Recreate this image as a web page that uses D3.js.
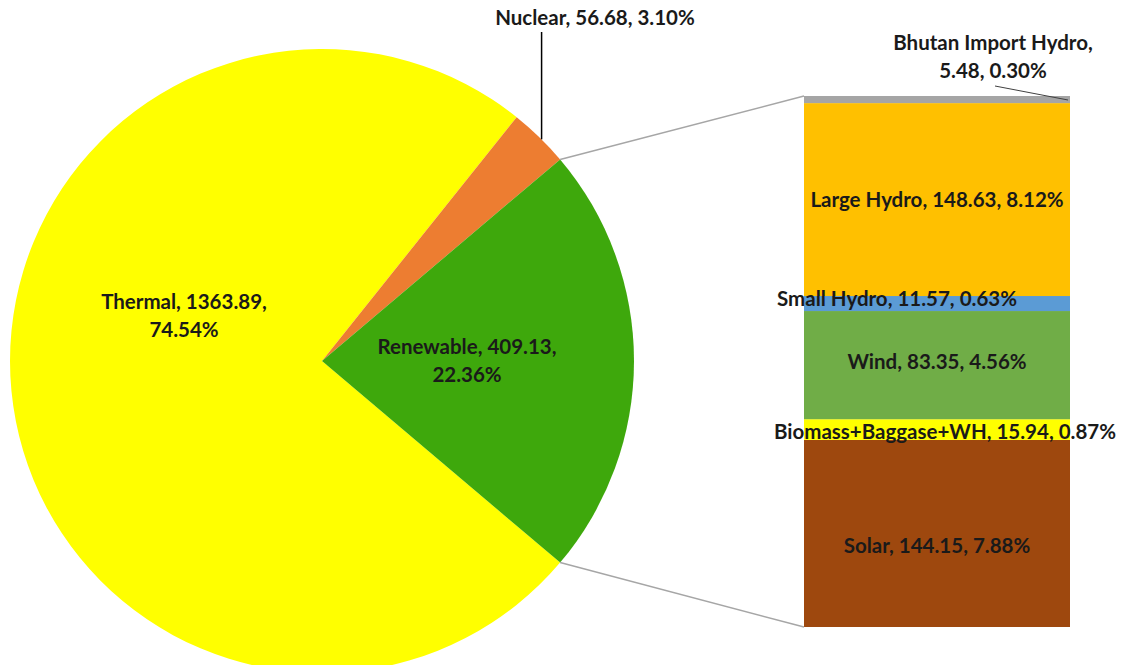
<!DOCTYPE html>
<html>
<head>
<meta charset="utf-8">
<script src="https://cdn.jsdelivr.net/npm/d3@7"></script>
<style>
  body { margin: 0; background: #fff; }
  svg text { font-family: Lato, "Noto Sans", sans-serif; font-weight: bold; fill: #1a1a1a; }
</style>
</head>
<body>
<svg id="chart"></svg>
<script>
// main pie
const pieNames = ["Thermal", "Nuclear", "Renewable"]
const pieValues = [1363.89, 56.68, 409.13]
const piePercents = ["74.54%", "3.10%", "22.36%"]
const pieColors = ["#ffff00", "#ed7d31", "#3ea80c"]

// renewable breakdown, bottom to top
const barNames = ["Solar", "Biomass+Baggase+WH", "Wind", "Small Hydro", "Large Hydro", "Bhutan Import Hydro"]
const barValues = [144.15, 15.94, 83.35, 11.57, 148.63, 5.48]
const barPercents = ["7.88%", "0.87%", "4.56%", "0.63%", "8.12%", "0.30%"]
const barColors = ["#9e480e", "#ffff00", "#70ad47", "#5b9bd5", "#ffc000", "#a5a5a5"]

const drawChart = () => {
  const dimensions = {
    width: 1123,
    height: 665,
    pieCx: 322,
    pieCy: 361,
    radius: 312,
    barLeft: 804,
    barRight: 1070,
    barTop: 96,
    barBottom: 627,
  }

  const svg = d3.select("#chart")
    .attr("width", dimensions.width)
    .attr("height", dimensions.height)

  // 1) Pie — renewable slice centred on the right side
  const renewShare = pieValues[2] / d3.sum(pieValues)
  const start = Math.PI / 2 + renewShare * Math.PI
  const pie = d3.pie().sort(null).startAngle(start).endAngle(start + 2 * Math.PI)
  const arcs = pie(pieValues)
  const arc = d3.arc().innerRadius(0).outerRadius(dimensions.radius)

  const pieG = svg.append("g")
    .attr("transform", `translate(${dimensions.pieCx},${dimensions.pieCy})`)

  pieG.selectAll("path")
    .data(arcs)
    .join("path")
    .attr("d", arc)
    .attr("fill", (d, i) => pieColors[i])

  // 2) Stacked bar
  const total = d3.sum(barValues)
  const yScale = d3.scaleLinear()
    .domain([0, total])
    .range([dimensions.barBottom, dimensions.barTop])
  const cum = d3.cumsum(barValues)
  const segments = barValues.map((v, i) => ({ y0: cum[i] - v, y1: cum[i], i }))

  svg.append("g").selectAll("rect")
    .data(segments)
    .join("rect")
    .attr("x", dimensions.barLeft)
    .attr("width", dimensions.barRight - dimensions.barLeft)
    .attr("y", (d) => yScale(d.y1))
    .attr("height", (d) => yScale(d.y0) - yScale(d.y1))
    .attr("fill", (d) => barColors[d.i])

  // 3) Connector lines from renewable slice edges to bar corners
  const renew = arcs[2]
  const edgePoint = (a) => [
    dimensions.pieCx + dimensions.radius * Math.sin(a),
    dimensions.pieCy - dimensions.radius * Math.cos(a),
  ]
  const [tx, ty] = edgePoint(renew.startAngle)
  const [bx, by] = edgePoint(renew.endAngle)
  svg.append("line")
    .attr("x1", tx).attr("y1", ty)
    .attr("x2", dimensions.barLeft).attr("y2", yScale(total))
    .attr("stroke", "#a6a6a6").attr("stroke-width", 1.5)
  svg.append("line")
    .attr("x1", bx).attr("y1", by)
    .attr("x2", dimensions.barLeft).attr("y2", yScale(0))
    .attr("stroke", "#a6a6a6").attr("stroke-width", 1.5)

  // 4) Labels
  const fontSize = 20.5
  const addLabel = (lines, x, y) => {
    const t = svg.append("text")
      .attr("x", x).attr("y", y)
      .attr("text-anchor", "middle")
      .style("font-size", `${fontSize}px`)
    lines.forEach((line, k) => {
      t.append("tspan").attr("x", x).attr("dy", k === 0 ? 0 : 28).text(line)
    })
  }

  // pie labels
  addLabel([`${pieNames[0]}, ${pieValues[0]},`, piePercents[0]], 184, 309)
  addLabel([`${pieNames[2]}, ${pieValues[2]},`, piePercents[2]], 467, 354)
  addLabel([`${pieNames[1]}, ${pieValues[1]}, ${piePercents[1]}`], 595, 25)

  // nuclear leader line
  const nuc = arcs[1]
  const nucMid = nuc.startAngle + (nuc.endAngle - nuc.startAngle) * 0.55
  const [nx, ny] = edgePoint(nucMid)
  svg.append("line")
    .attr("x1", nx).attr("y1", ny).attr("x2", nx).attr("y2", 32)
    .attr("stroke", "#000").attr("stroke-width", 1.5)

  // bar labels
  const mid = (i) => yScale((segments[i].y0 + segments[i].y1) / 2) + 7
  const barCx = (dimensions.barLeft + dimensions.barRight) / 2
  const barLabel = (i) => `${barNames[i]}, ${barValues[i]}, ${barPercents[i]}`
  addLabel([barLabel(0)], barCx, mid(0) + 13)
  addLabel([barLabel(1)], 945, mid(1) + 2)
  addLabel([barLabel(2)], barCx, mid(2) - 3)
  addLabel([barLabel(3)], 897, mid(3) - 5)
  addLabel([barLabel(4)], barCx, mid(4))
  addLabel([`${barNames[5]},`, `${barValues[5]}, ${barPercents[5]}`], 993, 50)

  // bhutan leader line
  svg.append("line")
    .attr("x1", 995).attr("y1", 86)
    .attr("x2", dimensions.barRight - 2).attr("y2", yScale(total) + 4)
    .attr("stroke", "#404040").attr("stroke-width", 1)
}

drawChart()
</script>
</body>
</html>
